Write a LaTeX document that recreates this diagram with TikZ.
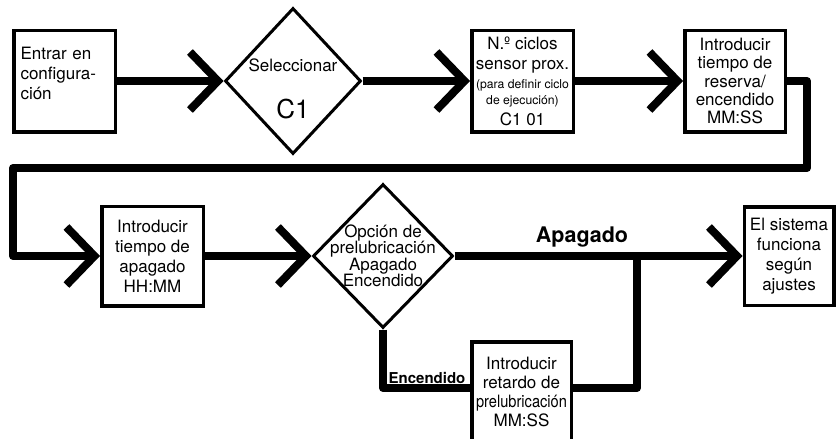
\documentclass[tikz,border=0pt]{standalone}
\usepackage{fontspec}
\setmainfont{TeX Gyre Heros}
\usepackage{graphicx}
\usetikzlibrary{
    arrows.meta,
    shapes.geometric
}

\begin{document}
\begin{tikzpicture}[x=1pt,y=-1pt,
   box/.style={draw,line width=3.5pt,fill=white,minimum width=101.5pt,minimum height=101.5pt,inner sep=0pt,align=center,font=\fontsize{17}{20}\selectfont},
   dia/.style={diamond,draw,line width=3pt,fill=white,inner sep=0pt},
   txt/.style={align=center,inner sep=0pt,font=\fontsize{17}{16.5}\selectfont},
   lbl/.style={inner sep=0pt,font=\fontsize{21.5}{24}\selectfont\bfseries},
   flow/.style={line width=8pt,line join=round},
   arr/.style={-{Straight Barb[length=28pt,width=58pt]}}]
  \useasboundingbox (0,0) rectangle (838,439);
  \clip (0,0) rectangle (838,439);
  % row 1: configuration steps
  \node[box,align=left,text width=88pt,text depth=56pt](b1) at (64.5,81){Entrar en\\configura-\\ción};
  \node[dia,minimum width=136pt,minimum height=146pt](d1) at (293,81){};
  \node[txt](sel) at (293,65){Seleccionar};
  \node[txt,font=\fontsize{26}{26}\selectfont](c1) at (293,109.5){C1};
  \node[box](b2) at (522.5,81){N.º ciclos\\sensor prox.\\[-1pt]{\fontsize{12.2}{14}\selectfont (para definir ciclo}\\[-4pt]{\fontsize{12.2}{14}\selectfont de ejecución)}\\[1pt]C1 01};
  \node[box,minimum width=100.5pt,font=\fontsize{17}{18.3}\selectfont](b3) at (735,81){Introducir\\tiempo de\\reserva/\\encendido\\MM:SS};
  % row 2: off time and pre-lubrication
  \node[box,minimum height=99.5pt](b4) at (152.5,256){Introducir\\tiempo de\\apagado\\HH:MM};
  \node[dia,minimum width=140pt,minimum height=144pt](d2) at (383,256){};
  \node[txt](opt) at (383,256){Opción de\\prelubricación\\Apagado\\Encendido};
  \node[box,minimum width=89.5pt,minimum height=98.5pt](b5) at (789,256){El sistema\\funciona\\según\\ajustes};
  \node[box,minimum width=99.5pt,minimum height=100pt,font=\fontsize{17}{19.3}\selectfont](b6) at (521.5,392){Introducir\\retardo de\\\scalebox{0.86}[1]{prelubricación}\\MM:SS};
  \node[lbl](apag) at (582,237.5){Apagado};
  \node[lbl,font=\fontsize{15}{17}\selectfont\bfseries](enc) at (427,378){Encendido};
  % corners of the connectors
  \coordinate (r1) at (807,168); \coordinate (l1) at (13,168);
  \coordinate (e1) at (383,388); \coordinate (j1) at (637,256);
  \draw[flow,arr] (b1) -- (d1);
  \draw[flow,arr] (d1) -- (b2);
  \draw[flow,arr] (b2) -- (b3);
  \draw[flow,arr] (b3.east) -| (r1) -- (l1) |- (b4.west);
  \draw[flow,arr] (b4) -- (d2);
  \draw[flow,arr] (d2.east) -- (b5.west);
  \draw[flow] (d2.south) |- (b6.west |- e1);
  \draw[flow] (b6.east |- e1) -| (j1);
\end{tikzpicture}
\end{document}
